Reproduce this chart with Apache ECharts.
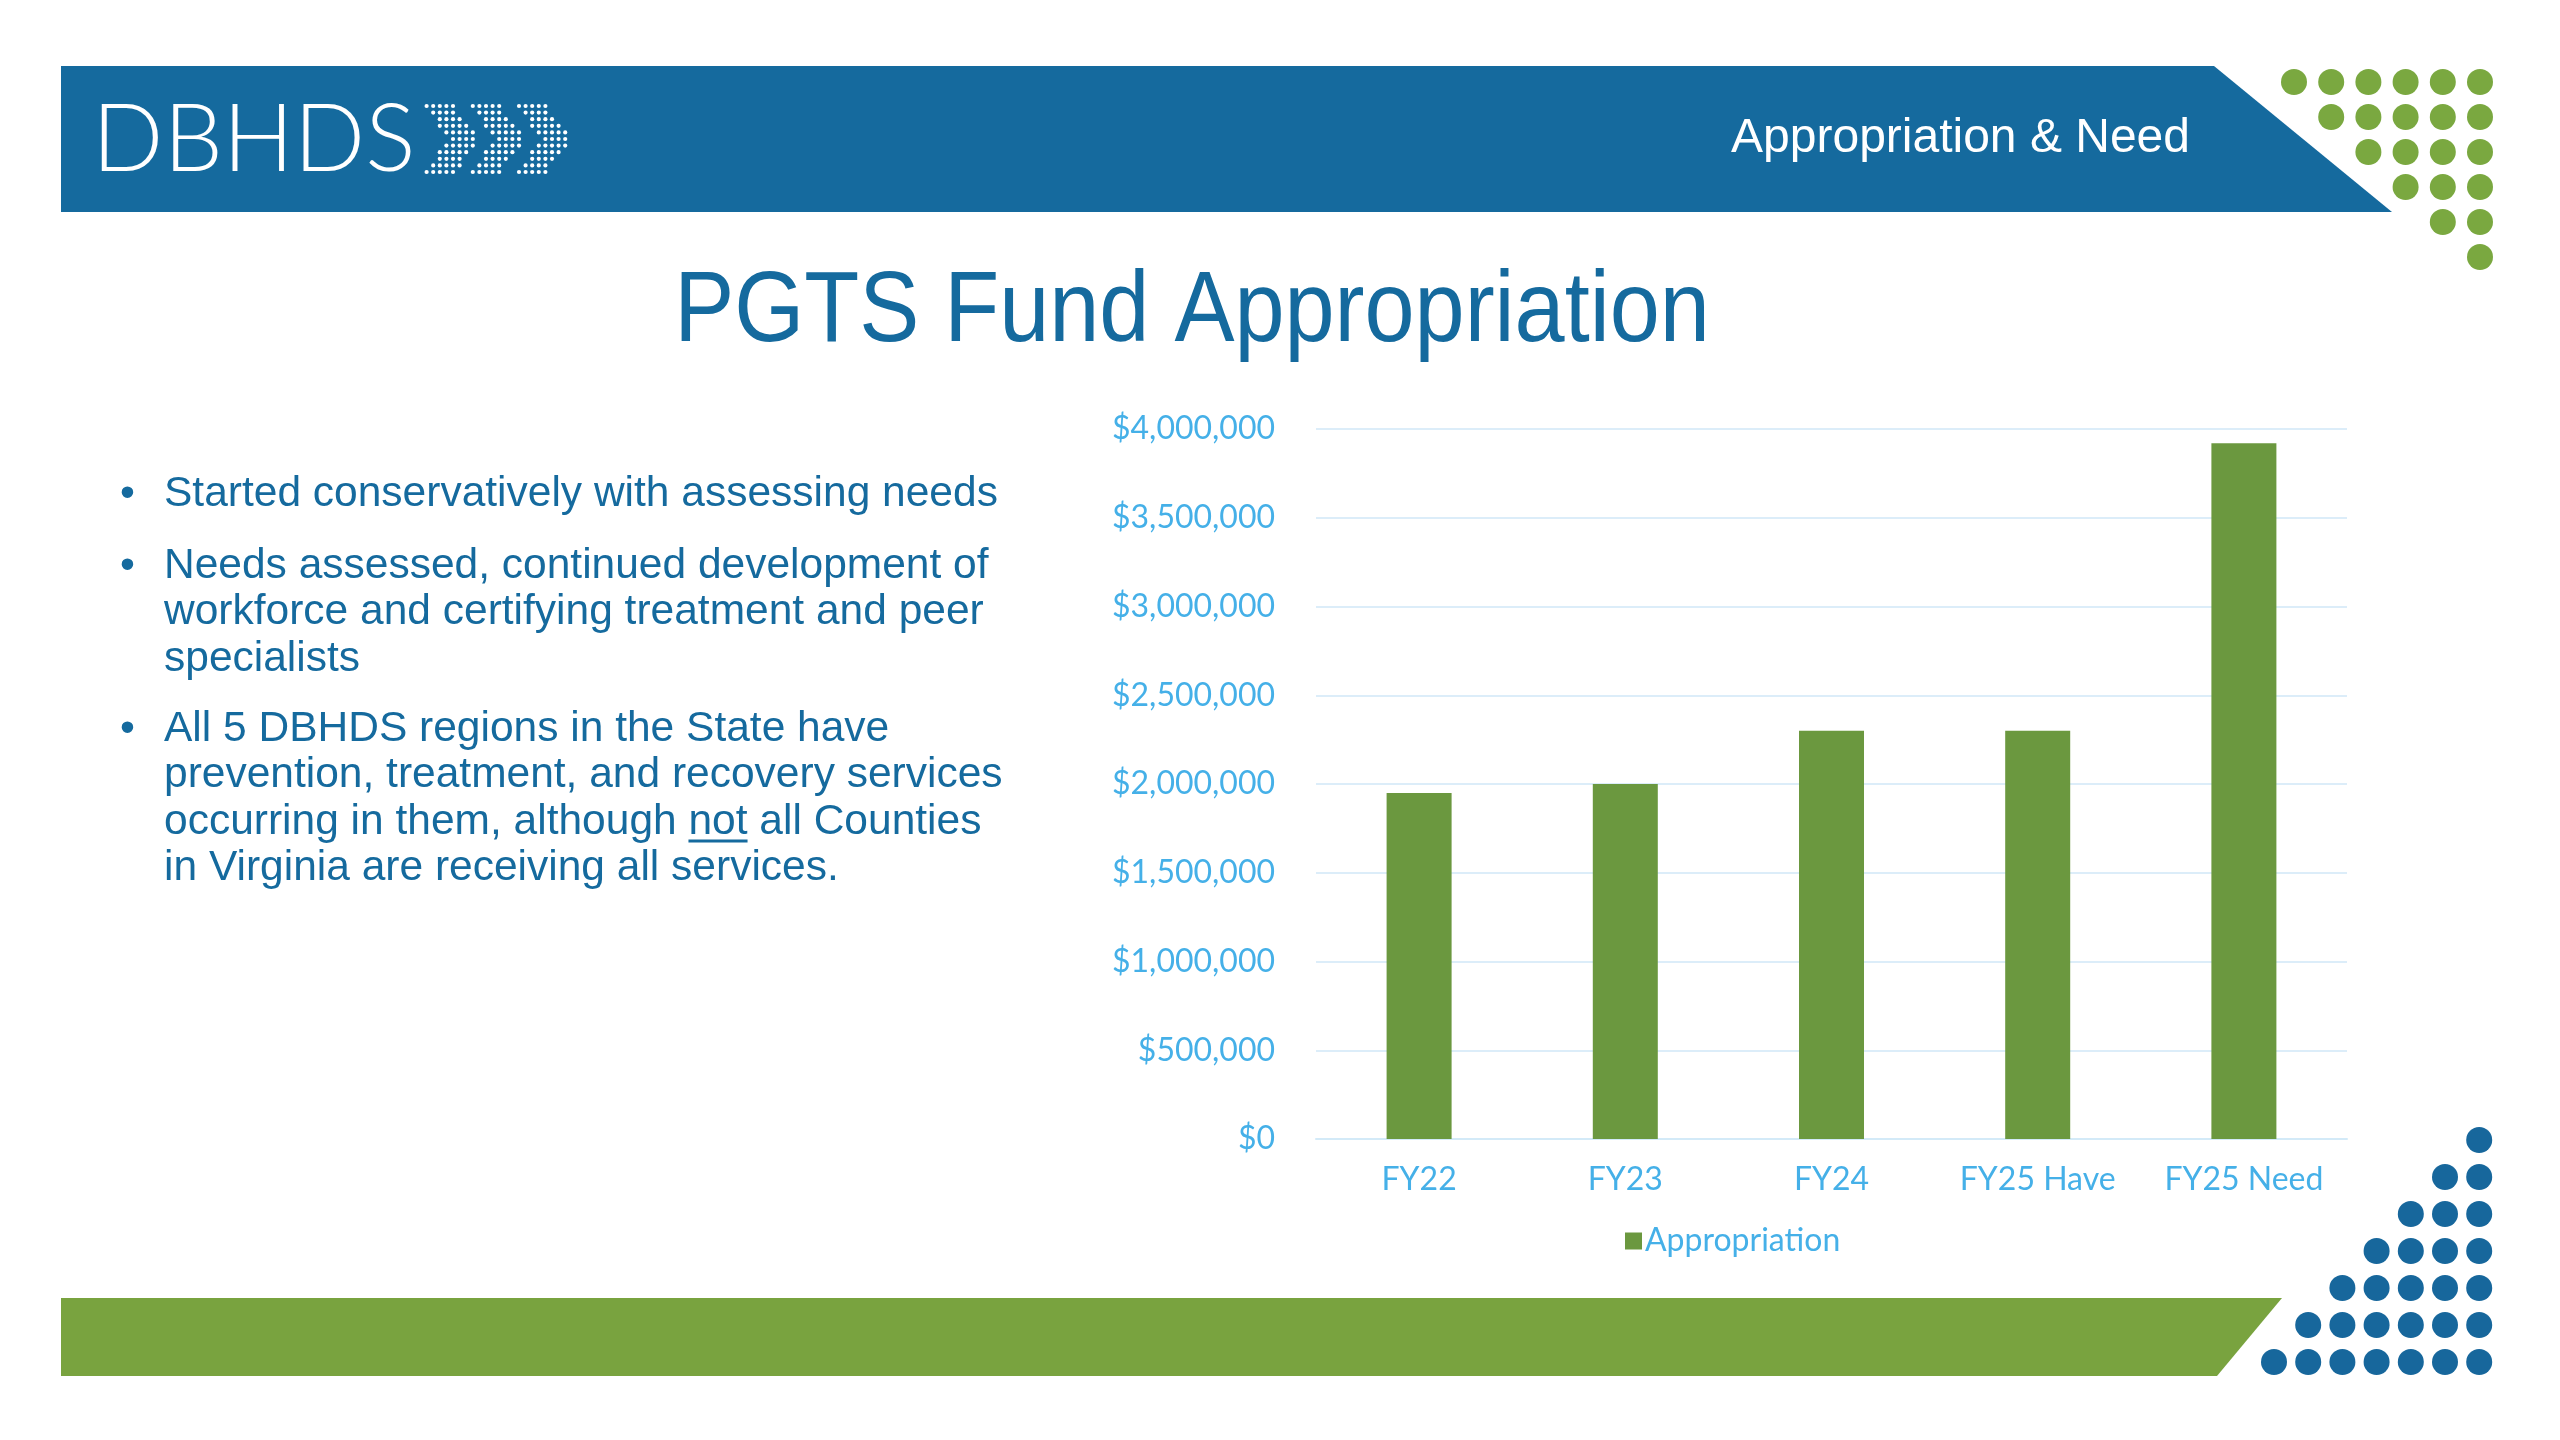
<!DOCTYPE html>
<html>
<head>
<meta charset="utf-8">
<script src="https://cdn.jsdelivr.net/npm/echarts@6/dist/echarts.min.js"></script>
<style>
html,body{margin:0;padding:0;background:#fff;}
#c{width:2560px;height:1440px;}
</style>
</head>
<body>
<div id="c"></div>
<script>
var categories = ['FY22', 'FY23', 'FY24', 'FY25 Have', 'FY25 Need'];
var appropriation = [1950000, 2000000, 2300000, 2300000, 3920000];
var seriesName = 'Appropriation';
var titleText = 'PGTS Fund Appropriation';
var headerRight = 'Appropriation & Need';
var bullets = [
  ['Started conservatively with assessing needs'],
  ['Needs assessed, continued development of', 'workforce and certifying treatment and peer', 'specialists'],
  ['All 5 DBHDS regions in the State have', 'prevention, treatment, and recovery services', 'occurring in them, although not all Counties', 'in Virginia are receiving all services.']
];

var BLUE = '#156a9e';
var GREEN_BAR = '#6b983f';
var GREEN_FOOT = '#79a33f';
var GREEN_DOT = '#7aa840';
var LABEL = '#45b0e8';
var TEXTFONT = "'Liberation Sans', Arial, sans-serif";
var BFONT = '42.5px ' + TEXTFONT;

function fmtMoney(v) {
  return '$' + String(Math.round(v)).replace(/\B(?=(\d{3})+(?!\d))/g, ',');
}

var graphics = [];
// header band
graphics.push({type:'polygon', shape:{points:[[61,66],[2214,66],[2392,212],[61,212]]}, style:{fill:BLUE}, z:1});
// footer band
graphics.push({type:'polygon', shape:{points:[[61,1298],[2282,1298],[2217,1376],[61,1376]]}, style:{fill:GREEN_FOOT}, z:1});
// green dots top right
for (var j = 0; j < 6; j++) {
  for (var i = j; i < 6; i++) {
    graphics.push({type:'circle', shape:{cx:2294 + 37.2*(i), cy:82 + 35*j, r:13}, style:{fill:GREEN_DOT}, z:1});
  }
}
// blue dots bottom right
for (var k = 0; k < 7; k++) {
  for (var m = 6 - k; m < 7; m++) {
    graphics.push({type:'circle', shape:{cx:2274 + 34.2*m, cy:1140 + 37*k, r:13}, style:{fill:'#17679c'}, z:1});
  }
}
// DBHDS logo text
graphics.push({type:'text', x:92, y:141, style:{text:'DBHDS', fill:'#ffffff', font:"300 94px Lato, 'Liberation Sans', sans-serif", align:'left', verticalAlign:'middle'}, z:3});
// dotted chevrons
(function(){
  var top = 106, bot = 173, mid = (top+bot)/2, half = (bot-top)/2;
  var starts = [424, 470, 516];
  var T = 30, tipOff = 55, kk = (tipOff - T)/half;
  for (var y = top; y <= bot; y += 6.6) {
    for (var x = 420; x <= 578; x += 6.6) {
      var d = Math.abs(y - mid);
      var inside = false;
      for (var s = 0; s < starts.length; s++) {
        var xl = starts[s] + (half - d)*kk;
        if (x >= xl && x <= xl + T) { inside = true; break; }
      }
      if (inside) graphics.push({type:'circle', shape:{cx:x, cy:y, r:2.1}, style:{fill:'#ffffff'}, z:3});
    }
  }
})();
// header right text
graphics.push({type:'text', x:2190, y:139, style:{text:headerRight, fill:'#ffffff', font:'48px ' + TEXTFONT, align:'right', verticalAlign:'middle'}, z:3});
// title
graphics.push({type:'text', x:1192, y:313, scaleX:0.9, style:{text:titleText, fill:BLUE, font:'100px ' + TEXTFONT, align:'center', verticalAlign:'middle'}, z:3});
// bullets
var bulletTops = [471, 543, 706];
var LH = 46.5;
for (var b = 0; b < bullets.length; b++) {
  graphics.push({type:'text', x:120, y:bulletTops[b], style:{text:'\u2022', fill:BLUE, font:BFONT, align:'left', verticalAlign:'top', lineHeight:LH}, z:3});
  graphics.push({type:'text', x:164, y:bulletTops[b], style:{text:bullets[b].join('\n'), fill:BLUE, font:BFONT, align:'left', verticalAlign:'top', lineHeight:LH}, z:3});
}
// underline of "not"
(function(){
  var cv = document.createElement('canvas').getContext('2d');
  cv.font = BFONT;
  var line = bullets[2][2];
  var idx = line.indexOf(' not ') + 1;
  var x0 = 164 + cv.measureText(line.slice(0, idx)).width;
  var w = cv.measureText('not').width;
  var yb = bulletTops[2] + LH*2 + 42;
  graphics.push({type:'line', shape:{x1:x0, y1:yb, x2:x0 + w, y2:yb}, style:{stroke:BLUE, lineWidth:3}, z:3});
})();

var chart = echarts.init(document.getElementById('c'), null, {width:2560, height:1440});
chart.setOption({
  animation: false,
  backgroundColor: '#ffffff',
  grid: {left:1316, right:213, top:429, bottom:301, containLabel:false},
  legend: {
    data:[seriesName], left:1625, top:1225, padding:0,
    icon:'rect', itemWidth:17, itemHeight:17, itemGap:8,
    textStyle:{color:LABEL, fontFamily:'Lato, sans-serif', fontSize:32, padding:[0,0,0,-2]}
  },
  xAxis: {
    type:'category', data:categories,
    axisLine:{show:true, lineStyle:{color:'#d3eaf8', width:2}},
    axisTick:{show:false},
    axisLabel:{color:LABEL, fontFamily:'Lato, sans-serif', fontSize:32, margin:25, interval:0, hideOverlap:false}
  },
  yAxis: {
    type:'value', min:0, max:4000000, interval:500000,
    axisLine:{show:false}, axisTick:{show:false},
    axisLabel:{color:LABEL, fontFamily:'Lato, sans-serif', fontSize:32, margin:41, formatter:fmtMoney},
    splitLine:{lineStyle:{color:'#dcedf9', width:2}}
  },
  series: [{
    name:seriesName, type:'bar', data:appropriation, barWidth:65,
    itemStyle:{color:GREEN_BAR}
  }],
  graphic: graphics
});
</script>
</body>
</html>
